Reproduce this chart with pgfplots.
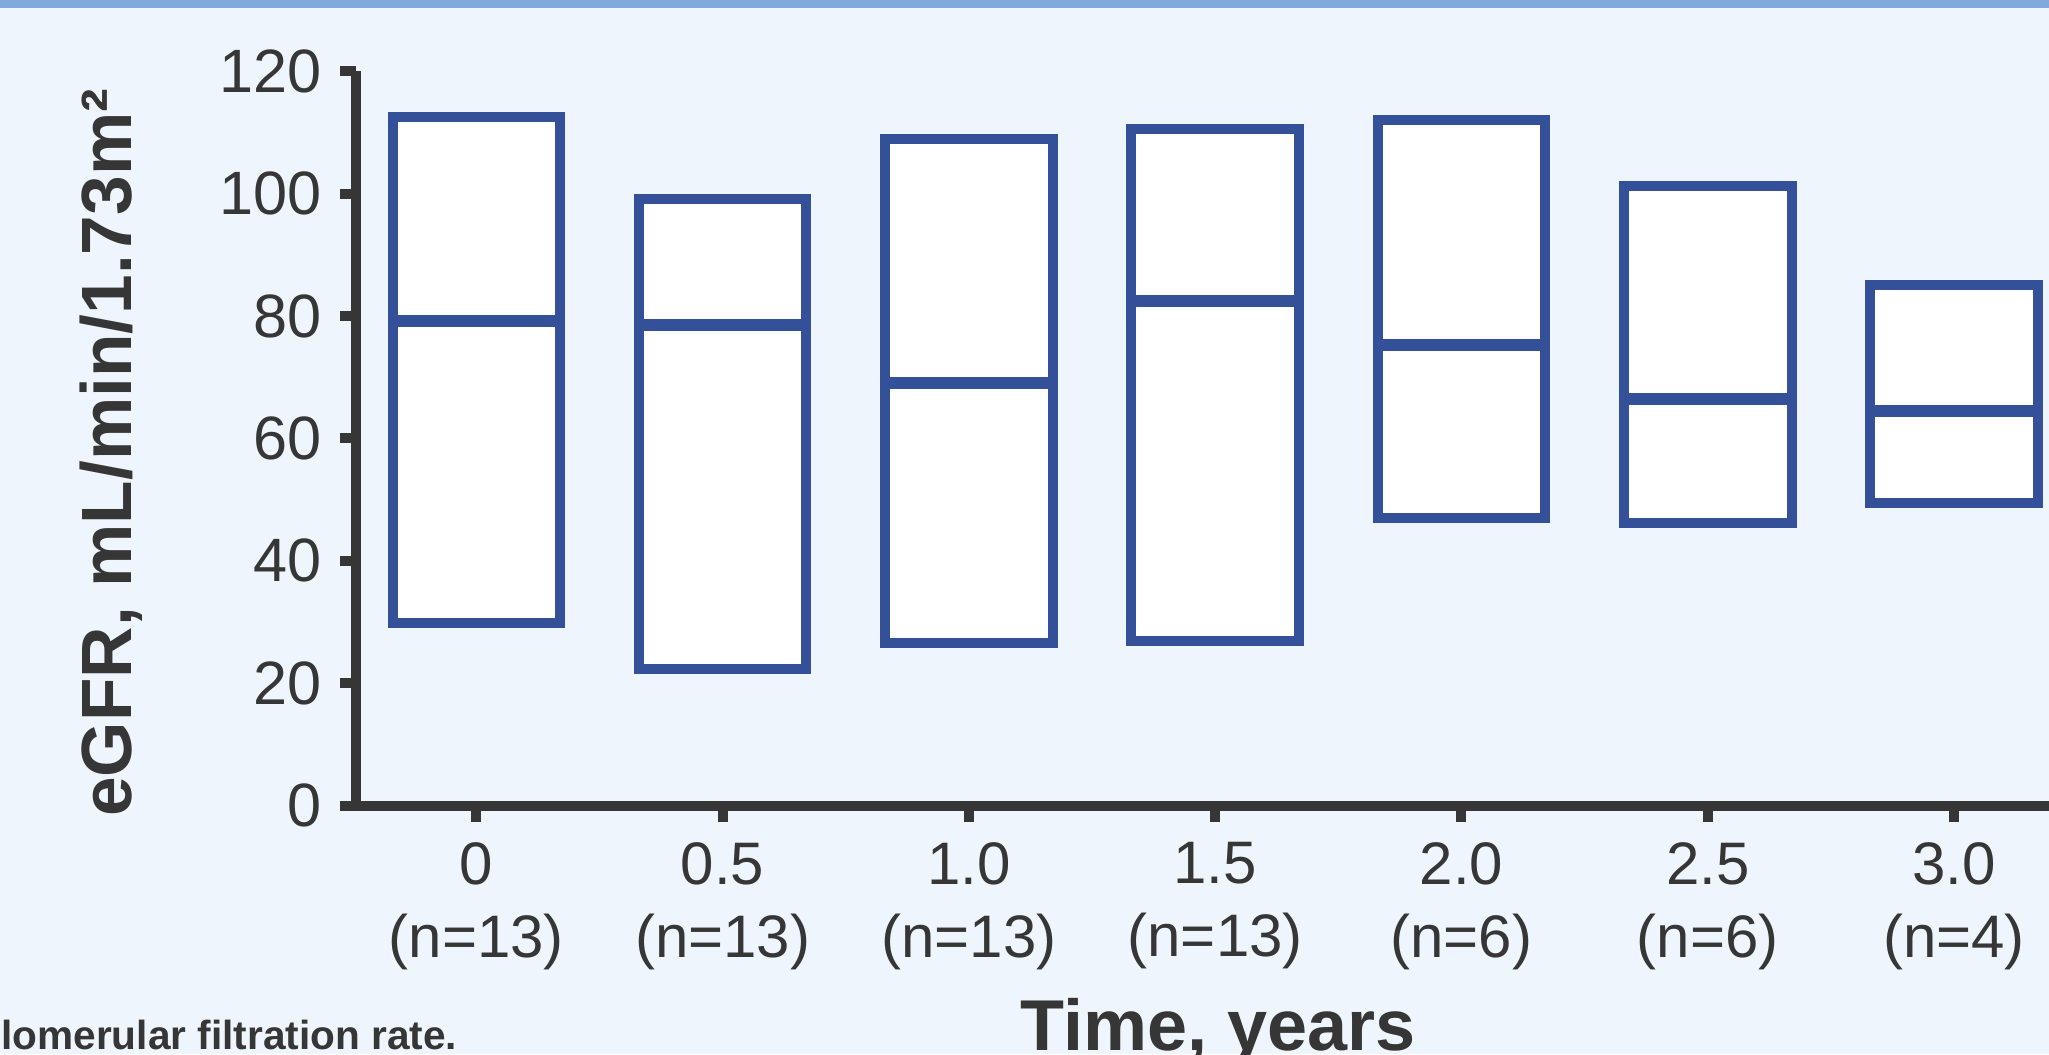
\documentclass[border=0pt]{standalone}
\usepackage{pgfplots}
\pgfplotsset{compat=1.18}
\usepackage{fontspec}
\setmainfont{Liberation Sans}
\definecolor{bgblue}{RGB}{238,245,252}
\definecolor{stripe}{RGB}{127,170,217}
\definecolor{boxblue}{RGB}{52,80,152}
\definecolor{axgray}{RGB}{54,54,54}
\begin{document}
\begin{tikzpicture}
\useasboundingbox (0,0) rectangle (512.25pt,263.5pt);
\clip (0,0) rectangle (512.25pt,263.5pt);
\fill[bgblue] (0,0) rectangle (512.25pt,263.5pt);
\fill[stripe] (0,261.5pt) rectangle (512.25pt,263.5pt);
\begin{axis}[
  at={(88.9pt,62.1pt)}, anchor=south west,
  scale only axis, width=430.4pt, height=183.6pt,
  xmin=-0.49, xmax=6.5, ymin=0, ymax=120,
  axis x line=bottom, axis y line=left,
  axis line style={-, line width=2.5pt, color=axgray},
  tick style={line width=2.5pt, color=axgray},
  major tick length=4pt, tick align=outside,
  xtick={0,1,2,3,4,5,6},
  xticklabels={{0\\(n=13)},{0.5\\(n=13)},{1.0\\(n=13)},{1.5\\(n=13)},{2.0\\(n=6)},{2.5\\(n=6)},{3.0\\(n=4)}},
  xticklabel style={align=center, font=\fontsize{15}{18.3}\selectfont, text=axgray, yshift=-1.6pt},
  ytick={0,20,40,60,80,100,120},
  yticklabel style={font=\fontsize{15.3}{18}\selectfont, text=axgray, xshift=-1pt},
  /pgf/number format/assume math mode=true,
  clip=false,
  boxst/.style={draw=boxblue, line width=2.5pt, fill=white, mark=none, line join=miter},
  medst/.style={draw=boxblue, line width=3pt, mark=none},
]
% boxes: lower quartile to upper quartile, width 0.68
\addplot[boxst] coordinates {(-0.34,29.9) (0.34,29.9) (0.34,112.5) (-0.34,112.5)} -- cycle;
\addplot[medst] coordinates {(-0.34,79.2) (0.34,79.2)};
\addplot[boxst] coordinates {(0.66,22.4) (1.34,22.4) (1.34,99.1) (0.66,99.1)} -- cycle;
\addplot[medst] coordinates {(0.66,78.6) (1.34,78.6)};
\addplot[boxst] coordinates {(1.66,26.5) (2.34,26.5) (2.34,108.9) (1.66,108.9)} -- cycle;
\addplot[medst] coordinates {(1.66,69.0) (2.34,69.0)};
\addplot[boxst] coordinates {(2.66,26.9) (3.34,26.9) (3.34,110.6) (2.66,110.6)} -- cycle;
\addplot[medst] coordinates {(2.66,82.4) (3.34,82.4)};
\addplot[boxst] coordinates {(3.66,47.0) (4.34,47.0) (4.34,112.1) (3.66,112.1)} -- cycle;
\addplot[medst] coordinates {(3.66,75.2) (4.34,75.2)};
\addplot[boxst] coordinates {(4.66,46.1) (5.34,46.1) (5.34,101.2) (4.66,101.2)} -- cycle;
\addplot[medst] coordinates {(4.66,66.4) (5.34,66.4)};
\addplot[boxst] coordinates {(5.66,49.5) (6.34,49.5) (6.34,85.0) (5.66,85.0)} -- cycle;
\addplot[medst] coordinates {(5.66,64.5) (6.34,64.5)};
\end{axis}
\node[rotate=90, anchor=center, text=axgray, font=\bfseries\fontsize{17.8}{20}\selectfont] at (27.8pt,150.3pt) {eGFR, mL/min/1.73m²};
\node[anchor=base, text=axgray, font=\bfseries\fontsize{18}{20}\selectfont, inner sep=0pt] at (304.5pt,1.0pt) {Time, years};
\node[anchor=base east, text=axgray, font=\bfseries\fontsize{10.15}{11}\selectfont, inner sep=0pt] at (114.5pt,1.2pt) {eGFR, estimated glomerular filtration rate.};
\end{tikzpicture}
\end{document}
